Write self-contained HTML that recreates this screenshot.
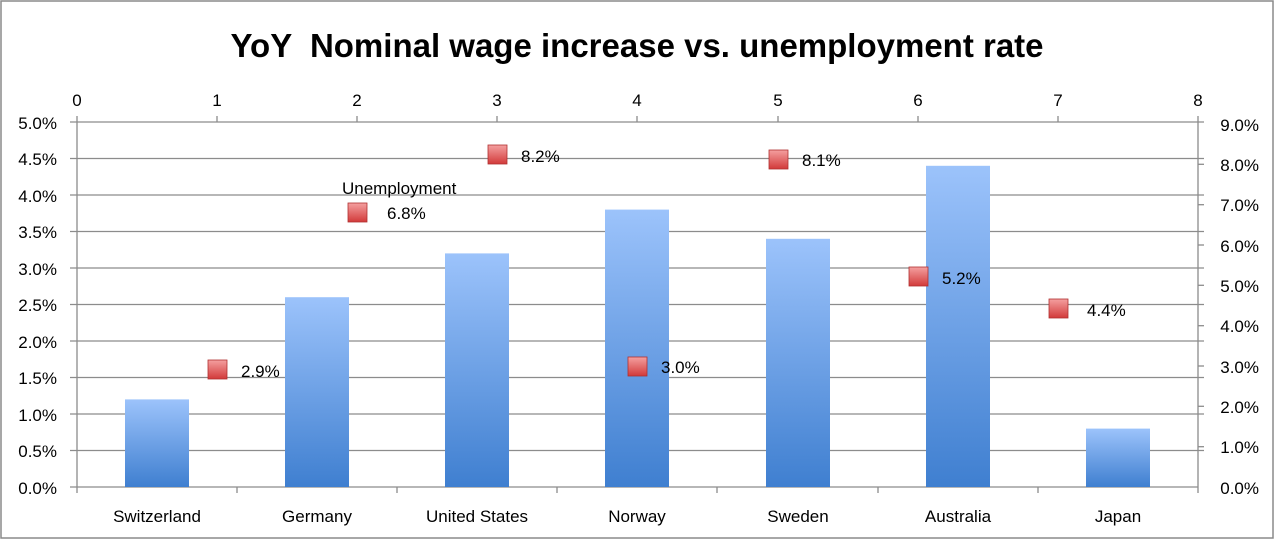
<!DOCTYPE html>
<html><head><meta charset="utf-8"><style>
html,body{margin:0;padding:0;background:#fff}
svg{display:block;font-family:"Liberation Sans",sans-serif}
</style></head><body>
<svg width="1275" height="541" viewBox="0 0 1275 541">
<defs>
<linearGradient id="bg" x1="0" y1="0" x2="0" y2="1">
<stop offset="0" stop-color="#9cc3fb"/><stop offset="1" stop-color="#3f7fd0"/>
</linearGradient>
<linearGradient id="mk" x1="0" y1="0" x2="0" y2="1">
<stop offset="0" stop-color="#f4a0a0"/><stop offset="1" stop-color="#d23a3a"/>
</linearGradient>
</defs>
<rect x="1" y="1" width="1272" height="537" fill="#fff" stroke="#8a8a8a" stroke-width="1.5"/>
<text x="637" y="57" font-size="33" font-weight="bold" text-anchor="middle" fill="#000" xml:space="preserve">YoY  Nominal wage increase vs. unemployment rate</text>
<g stroke="#8c8c8c" stroke-width="1.3">
<line x1="70" y1="122" x2="1204" y2="122"/><line x1="70" y1="158.5" x2="1204" y2="158.5"/>
<line x1="70" y1="195" x2="1204" y2="195"/><line x1="70" y1="231.5" x2="1204" y2="231.5"/>
<line x1="70" y1="268" x2="1204" y2="268"/><line x1="70" y1="304.5" x2="1204" y2="304.5"/>
<line x1="70" y1="341" x2="1204" y2="341"/><line x1="70" y1="377.5" x2="1204" y2="377.5"/>
<line x1="70" y1="414" x2="1204" y2="414"/><line x1="70" y1="450.5" x2="1204" y2="450.5"/>
<line x1="70" y1="487" x2="1198" y2="487"/>
<line x1="77" y1="116" x2="77" y2="487"/><line x1="1198" y1="116" x2="1198" y2="493"/>
<line x1="217" y1="116" x2="217" y2="122"/><line x1="357" y1="116" x2="357" y2="122"/>
<line x1="497" y1="116" x2="497" y2="122"/><line x1="637" y1="116" x2="637" y2="122"/>
<line x1="778" y1="116" x2="778" y2="122"/><line x1="918" y1="116" x2="918" y2="122"/>
<line x1="1058" y1="116" x2="1058" y2="122"/>
<line x1="237" y1="487" x2="237" y2="493"/><line x1="397" y1="487" x2="397" y2="493"/>
<line x1="557" y1="487" x2="557" y2="493"/><line x1="717" y1="487" x2="717" y2="493"/>
<line x1="878" y1="487" x2="878" y2="493"/><line x1="1038" y1="487" x2="1038" y2="493"/>
<line x1="77" y1="487" x2="77" y2="493"/>
<line x1="1198" y1="446.7" x2="1204" y2="446.7"/><line x1="1198" y1="406.3" x2="1204" y2="406.3"/>
<line x1="1198" y1="366" x2="1204" y2="366"/><line x1="1198" y1="325.7" x2="1204" y2="325.7"/>
<line x1="1198" y1="285.3" x2="1204" y2="285.3"/><line x1="1198" y1="245" x2="1204" y2="245"/>
<line x1="1198" y1="204.7" x2="1204" y2="204.7"/><line x1="1198" y1="164.3" x2="1204" y2="164.3"/>
</g>
<g fill="url(#bg)">
<rect x="125" y="399.4" width="64" height="87.6"/>
<rect x="285" y="297.2" width="64" height="189.8"/>
<rect x="445" y="253.4" width="64" height="233.6"/>
<rect x="605" y="209.6" width="64" height="277.4"/>
<rect x="766" y="238.8" width="64" height="248.2"/>
<rect x="926" y="165.8" width="64" height="321.2"/>
<rect x="1086" y="428.6" width="64" height="58.4"/>
</g>
<g font-size="17" fill="#000" text-anchor="end">
<text x="57" y="129">5.0%</text><text x="57" y="165">4.5%</text><text x="57" y="202">4.0%</text>
<text x="57" y="238">3.5%</text><text x="57" y="275">3.0%</text><text x="57" y="311">2.5%</text>
<text x="57" y="348">2.0%</text><text x="57" y="384">1.5%</text><text x="57" y="421">1.0%</text>
<text x="57" y="457">0.5%</text><text x="57" y="494">0.0%</text>
</g>
<g font-size="17" fill="#000" text-anchor="end">
<text x="1259" y="494">0.0%</text><text x="1259" y="453">1.0%</text><text x="1259" y="413">2.0%</text>
<text x="1259" y="373">3.0%</text><text x="1259" y="332">4.0%</text><text x="1259" y="292">5.0%</text>
<text x="1259" y="252">6.0%</text><text x="1259" y="211">7.0%</text><text x="1259" y="171">8.0%</text>
<text x="1259" y="131">9.0%</text>
</g>
<g font-size="17" fill="#000" text-anchor="middle">
<text x="77" y="106">0</text><text x="217" y="106">1</text><text x="357" y="106">2</text>
<text x="497" y="106">3</text><text x="637" y="106">4</text><text x="778" y="106">5</text>
<text x="918" y="106">6</text><text x="1058" y="106">7</text><text x="1198" y="106">8</text>
</g>
<g font-size="17" fill="#000" text-anchor="middle">
<text x="157" y="522">Switzerland</text><text x="317" y="522">Germany</text><text x="477" y="522">United States</text>
<text x="637" y="522">Norway</text><text x="798" y="522">Sweden</text><text x="958" y="522">Australia</text>
<text x="1118" y="522">Japan</text>
</g>
<g fill="url(#mk)" stroke="#b03030" stroke-width="0.8">
<rect x="208" y="360" width="19" height="19"/>
<rect x="348" y="203" width="19" height="19"/>
<rect x="488" y="145" width="19" height="19"/>
<rect x="628" y="357" width="19" height="19"/>
<rect x="769" y="150" width="19" height="19"/>
<rect x="909" y="267" width="19" height="19"/>
<rect x="1049" y="299" width="19" height="19"/>
</g>
<g font-size="17" fill="#000">
<text x="241" y="377">2.9%</text>
<text x="387" y="219">6.8%</text>
<text x="342" y="194">Unemployment</text>
<text x="521" y="162">8.2%</text>
<text x="661" y="373">3.0%</text>
<text x="802" y="166">8.1%</text>
<text x="942" y="284">5.2%</text>
<text x="1087" y="316">4.4%</text>
</g>
</svg>
</body></html>
